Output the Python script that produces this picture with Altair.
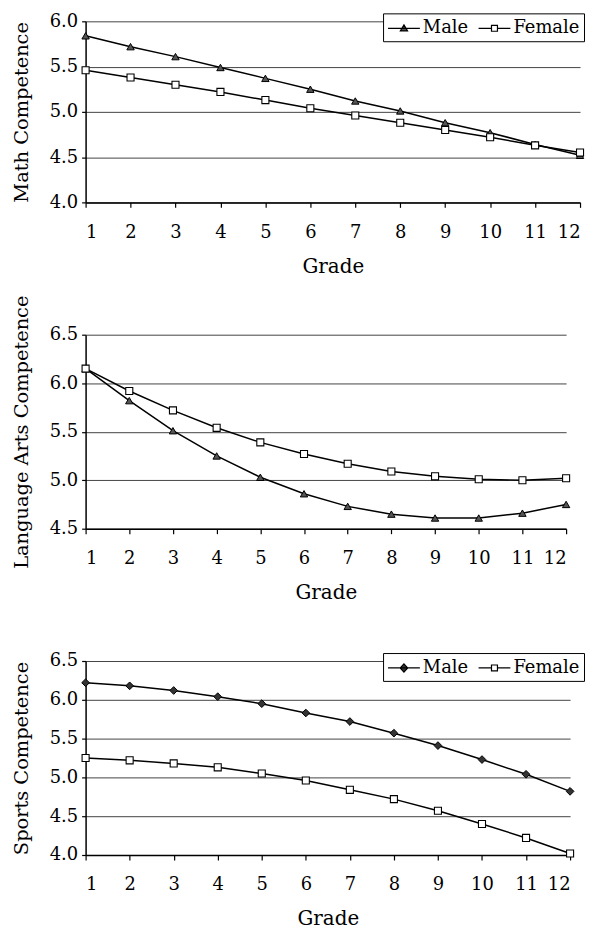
import altair as alt
import pandas as pd

FONT = "DejaVu Serif"

grades = list(range(1, 13))
series = ["Male", "Female"]

math_male = [5.84, 5.72, 5.61, 5.49, 5.37, 5.25, 5.12, 5.01, 4.88, 4.77, 4.64, 4.52]
math_female = [5.46, 5.38, 5.30, 5.22, 5.13, 5.04, 4.96, 4.88, 4.80, 4.72, 4.63, 4.55]

lang_male = [6.15, 5.82, 5.51, 5.25, 5.03, 4.86, 4.73, 4.65, 4.61, 4.61, 4.66, 4.75]
lang_female = [6.15, 5.92, 5.72, 5.54, 5.39, 5.27, 5.17, 5.09, 5.04, 5.01, 5.00, 5.02]

sport_male = [6.22, 6.18, 6.12, 6.04, 5.95, 5.83, 5.72, 5.57, 5.41, 5.23, 5.04, 4.82]
sport_female = [5.25, 5.22, 5.18, 5.13, 5.05, 4.96, 4.84, 4.72, 4.57, 4.40, 4.22, 4.02]

math_ticks = [4.0, 4.5, 5.0, 5.5, 6.0]
lang_ticks = [4.5, 5.0, 5.5, 6.0, 6.5]
sport_ticks = [4.0, 4.5, 5.0, 5.5, 6.0, 6.5]

# legend symbols: line with marker (custom SVG paths in unit box)
TRI_PATH = "M-1.6,0H1.6M0,-0.34L0.36,0.26L-0.36,0.26Z"
DIA_PATH = "M-1.6,0H1.6M0,-0.42L0.38,0L0,0.42L-0.38,0Z"
SQ_PATH = "M-1.6,0H-0.3M0.3,0H1.6M-0.3,-0.3H0.3V0.3H-0.3Z"


def panel(male, female, ytitle, ydomain, yticks, width, height,
          male_shape, male_fill, male_size, male_path, legend_pos=None):
    df = pd.DataFrame({
        "Grade": grades * 2,
        "Value": male + female,
        "Sex": ["Male"] * len(grades) + ["Female"] * len(grades),
    })
    x = alt.X("Grade:Q",
              scale=alt.Scale(domain=[1, 12], nice=False, zero=False),
              axis=alt.Axis(values=grades, title="Grade", grid=False,
                            tickSize=5, labelPadding=16, labelFontSize=18,
                            titleFontSize=20, titlePadding=15,
                            labelFont=FONT, titleFont=FONT))
    y = alt.Y("Value:Q",
              scale=alt.Scale(domain=ydomain, nice=False, zero=False),
              axis=alt.Axis(values=yticks, format=".1f", title=ytitle, grid=True,
                            tickSize=4, labelPadding=4, labelFontSize=18,
                            titleFontSize=19.5, titleAngle=270,
                            titleBaseline="middle", titleAlign="center",
                            titleX=-64, titleY=height / 2,
                            labelFont=FONT, titleFont=FONT))
    base = alt.Chart(df).encode(x=x, y=y)
    lines = base.mark_line(color="black", strokeWidth=1.5).encode(detail="Sex:N")
    pts_m = base.transform_filter("datum.Sex == 'Male'").mark_point(
        shape=male_shape, filled=True, fill=male_fill, stroke="black",
        strokeWidth=1, size=male_size, opacity=1)
    pts_f = base.transform_filter("datum.Sex == 'Female'").mark_point(
        shape="square", filled=True, fill="white", stroke="black",
        strokeWidth=1.1, size=50, opacity=1)
    layers = [lines, pts_m, pts_f]
    if legend_pos is not None:
        leg = alt.Legend(orient="none", legendX=legend_pos[0], legendY=legend_pos[1],
                         direction="horizontal", title=None,
                         strokeColor="black", fillColor="white", padding=4,
                         labelFont=FONT, labelFontSize=18, labelColor="black",
                         symbolSize=400, symbolStrokeColor="black",
                         symbolStrokeWidth=1.2, symbolOffset=6, labelOffset=8,
                         columnPadding=7, cornerRadius=0)
        key = base.transform_filter("datum.Grade > 100").mark_point(
            strokeWidth=1.2, opacity=1).encode(
            shape=alt.Shape("Sex:N",
                            scale=alt.Scale(domain=series, range=[male_path, SQ_PATH]),
                            legend=leg),
            fill=alt.Fill("Sex:N",
                          scale=alt.Scale(domain=series, range=[male_fill, "white"]),
                          legend=leg),
            stroke=alt.Stroke("Sex:N",
                              scale=alt.Scale(domain=series, range=["black", "black"]),
                              legend=leg))
        layers.append(key)
    return alt.layer(*layers).properties(width=width, height=height)


p1 = panel(math_male, math_female, "Math Competence", [4.0, 6.0], math_ticks,
           497, 182, "triangle-up", "#555555", 55, TRI_PATH, (299, -8))
p2 = panel(lang_male, lang_female, "Language Arts Competence", [4.5, 6.5], lang_ticks,
           483, 195, "triangle-up", "#555555", 55, TRI_PATH, None)
p3 = panel(sport_male, sport_female, "Sports Competence", [4.0, 6.5], sport_ticks,
           487, 195, "diamond", "#333333", 60, DIA_PATH, (299, -8))

chart = alt.vconcat(p1, p2, p3, spacing=133, bounds="flush").resolve_scale(
    shape="independent", fill="independent", stroke="independent"
).resolve_legend(
    shape="independent", fill="independent", stroke="independent"
).properties(
    padding={"top": 2, "left": 3, "right": 0, "bottom": 0}
).configure_view(stroke=None).configure_axis(
    domainColor="black", domainWidth=1.5, tickColor="black", tickWidth=1.2,
    gridColor="#444444", gridWidth=1, labelColor="black", titleColor="black",
    titleFontWeight="normal"
)

chart.save("out.html", embed_options={"renderer": "svg", "actions": False})
